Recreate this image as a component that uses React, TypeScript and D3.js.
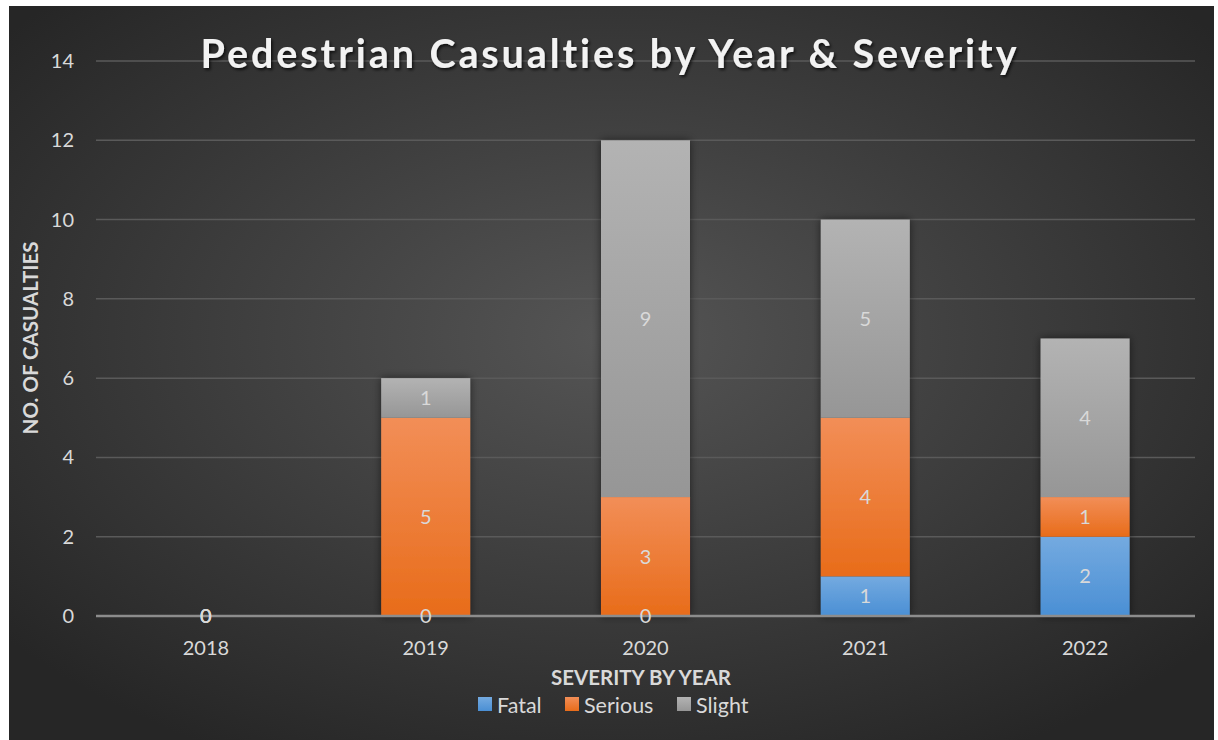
import React from "react";
import * as d3 from "d3";

const years = ["2018", "2019", "2020", "2021", "2022"];
const fatal = [0, 0, 0, 1, 2];
const serious = [0, 5, 3, 4, 1];
const slight = [0, 1, 9, 5, 4];
const yTicks = [0, 2, 4, 6, 8, 10, 12, 14];
const seriesNames = ["Fatal", "Serious", "Slight"];

const W = 1218, H = 740;
const left = 96, right = 1195, top = 61, bottom = 616;

export default function App() {
  const x = d3.scaleBand<string>().domain(years).range([left, right]).padding(0);
  const y = d3.scaleLinear().domain([0, 14]).range([bottom, top]);
  const rows = years.map((yr, i) => ({ year: yr, Fatal: fatal[i], Serious: serious[i], Slight: slight[i] }));
  const stacked = d3.stack<any>().keys(seriesNames)(rows);
  const barW = x.bandwidth() * 0.405;
  const grads = ["gFatal", "gSerious", "gSlight"];
  const font = "Lato, 'Open Sans', sans-serif";
  const labelCol = "#d9d9d9";
  const fs = 20;

  return (
    <svg width={W} height={H} style={{ position: "absolute", left: 0, top: 0 }}>
      <defs>
        <radialGradient id="bg" cx="50%" cy="45%" r="65%">
          <stop offset="0%" stopColor="#555555" />
          <stop offset="100%" stopColor="#262626" />
        </radialGradient>
        <linearGradient id="gFatal" x1="0" y1="0" x2="0" y2="1">
          <stop offset="0%" stopColor="#74aae0" />
          <stop offset="100%" stopColor="#4a8fd4" />
        </linearGradient>
        <linearGradient id="gSerious" x1="0" y1="0" x2="0" y2="1">
          <stop offset="0%" stopColor="#f28e57" />
          <stop offset="100%" stopColor="#e86c1a" />
        </linearGradient>
        <linearGradient id="gSlight" x1="0" y1="0" x2="0" y2="1">
          <stop offset="0%" stopColor="#b3b3b3" />
          <stop offset="100%" stopColor="#969696" />
        </linearGradient>
        <filter id="shadow" x="-30%" y="-10%" width="160%" height="120%">
          <feDropShadow dx="0" dy="0" stdDeviation="4" floodColor="#000" floodOpacity="0.55" />
        </filter>
        <filter id="tshadow" x="-5%" y="-30%" width="110%" height="160%">
          <feDropShadow dx="1.5" dy="2" stdDeviation="1.5" floodColor="#000" floodOpacity="0.7" />
        </filter>
      </defs>
      <rect x={0} y={0} width={W} height={H} fill="#ffffff" />
      <rect x={9} y={6} width={1205} height={734} fill="url(#bg)" />

      {yTicks.map((t) => (
        <g key={t}>
          {t !== 0 && (
            <line x1={left} x2={right} y1={y(t)} y2={y(t)} stroke="#5a5a5a" strokeWidth={1.5} />
          )}
          <text x={74} y={y(t)} dy="0.35em" textAnchor="end" fill={labelCol} fontSize={fs} fontFamily={font}>
            {t}
          </text>
        </g>
      ))}

      {years.map((yr, i) => (
        <g key={"bar" + yr} filter="url(#shadow)">
          {stacked.map((s, si) => {
            const d = s[i];
            const h = y(d[0]) - y(d[1]);
            if (h <= 0) return null;
            return (
              <rect
                key={s.key}
                x={(x(yr) as number) + (x.bandwidth() - barW) / 2}
                y={y(d[1])}
                width={barW}
                height={h}
                fill={`url(#${grads[si]})`}
              />
            );
          })}
        </g>
      ))}

      <line x1={left} x2={right} y1={bottom} y2={bottom} stroke="#8c8c8c" strokeWidth={2.5} />

      {stacked.map((s) => (
        <g key={"l" + s.key}>
          {s.map((d, i) => {
            const v = d[1] - d[0];
            const cy = v === 0 ? y(d[0]) : (y(d[0]) + y(d[1])) / 2;
            return (
              <text
                key={i}
                x={(x(years[i]) as number) + x.bandwidth() / 2}
                y={cy}
                dy="0.35em"
                textAnchor="middle"
                fill={labelCol}
                fontSize={fs}
                fontFamily={font}
              >
                {v}
              </text>
            );
          })}
        </g>
      ))}

      {years.map((yr) => (
        <text
          key={yr}
          x={(x(yr) as number) + x.bandwidth() / 2}
          y={648}
          dy="0.35em"
          textAnchor="middle"
          fill={labelCol}
          fontSize={fs}
          fontFamily={font}
        >
          {yr}
        </text>
      ))}

      <text
        x={610}
        y={54}
        dy="0.35em"
        textAnchor="middle"
        fill="#f2f2f2"
        fontSize={39.5}
        fontWeight="bold"
        letterSpacing={2.9}
        fontFamily={font}
        filter="url(#tshadow)"
      >
        Pedestrian Casualties by Year &amp; Severity
      </text>

      <text
        transform={`translate(31,338) rotate(-90)`}
        dy="0.35em"
        textAnchor="middle"
        fill={labelCol}
        fontSize={20.5}
        fontWeight="bold"
        fontFamily={font}
      >
        NO. OF CASUALTIES
      </text>

      <text x={641} y={678} dy="0.35em" textAnchor="middle" fill={labelCol} fontSize={20.5} fontWeight="bold" fontFamily={font}>
        SEVERITY BY YEAR
      </text>

      {seriesNames.map((n, i) => {
        const lx = [478, 565, 677][i];
        return (
          <g key={n}>
            <rect x={lx} y={697} width={14} height={14} fill={`url(#${grads[i]})`} />
            <text x={lx + 19} y={705} dy="0.35em" fill={labelCol} fontSize={21.5} fontFamily={font}>
              {n}
            </text>
          </g>
        );
      })}
    </svg>
  );
}
